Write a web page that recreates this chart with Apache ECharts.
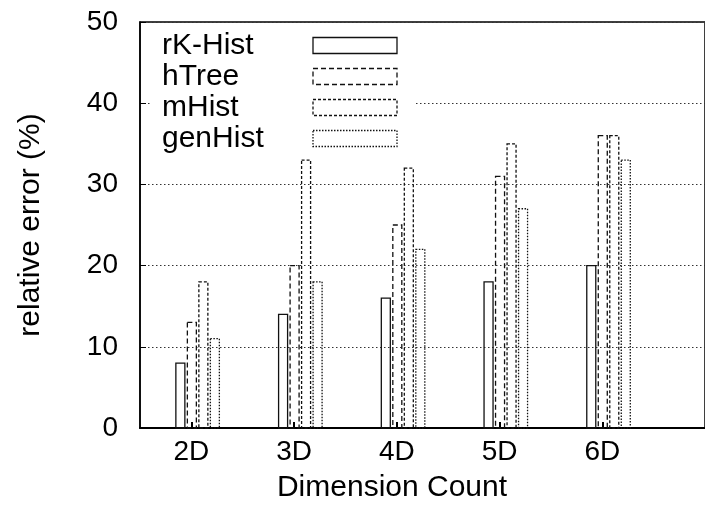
<!DOCTYPE html>
<html>
<head>
<meta charset="utf-8">
<script src="https://cdn.jsdelivr.net/npm/echarts@6/dist/echarts.min.js"></script>
<style>html,body{margin:0;padding:0;background:#fff}</style>
</head>
<body>
<div id="chart" style="width:705px;height:527px;"></div>
<script>
// data
var dims = ['2D', '3D', '4D', '5D', '6D'];
var dimPos = [2, 3, 4, 5, 6];
var seriesNames = ['rK-Hist', 'hTree', 'mHist', 'genHist'];
var rkHist = [8, 14, 16, 18, 20];
var hTree = [13, 20, 25, 31, 36];
var mHist = [18, 33, 32, 35, 36];
var genHist = [11, 18, 22, 27, 33];

var font = 'Liberation Sans';
// outline dash of each series (gnuplot look)
var dashes = ['solid', [5, 3], [3, 2], [1.5, 1.5]];
var offsets = [-11, 0.5, 12, 23.5]; // px from the tick
var barW = 9;

function toPairs(arr) {
	return arr.map(function (v, i) { return [dimPos[i], v]; });
}

function makeRender(k) {
	return function (params, api) {
		var top = api.coord([api.value(0), api.value(1)]);
		var base = api.coord([api.value(0), 0]);
		var cx = top[0] + offsets[k];
		return {
			type: 'rect',
			shape: { x: cx - barW / 2, y: top[1], width: barW, height: base[1] - top[1] },
			style: {
				fill: 'none',
				stroke: '#111',
				lineWidth: 1.3,
				lineDash: dashes[k] === 'solid' ? null : dashes[k]
			}
		};
	};
}

var allData = [rkHist, hTree, mHist, genHist];
var series = seriesNames.map(function (name, k) {
	return {
		name: name,
		type: 'custom',
		renderItem: makeRender(k),
		data: toPairs(allData[k]),
		encode: { x: 0, y: 1 },
		itemStyle: { color: '#fff' },
		z: 3
	};
});

var chart = echarts.init(document.getElementById('chart'));
chart.setOption({
	animation: false,
	backgroundColor: '#fff',
	grid: {
		left: 140, top: 22, width: 569, height: 406,
		show: true, borderColor: '#000', borderWidth: 1.5,
		backgroundColor: 'transparent'
	},
	legend: {
		orient: 'vertical', left: 150, top: 28, align: 'right',
		backgroundColor: '#fff', padding: [2, 18, 4, 12], itemGap: 0,
		itemWidth: 84, itemHeight: 16, icon: 'rect', selectedMode: false,
		formatter: function (n) { return '{a|' + n + '}'; },
		textStyle: {
			fontFamily: font, fontSize: 30, color: '#000', lineHeight: 31,
			rich: { a: { width: 146, align: 'left', fontFamily: font, fontSize: 30, lineHeight: 31, color: '#000' } }
		},
		data: seriesNames.map(function (n, i) {
			return {
				name: n,
				itemStyle: { color: '#fff', borderColor: '#111', borderWidth: 1.3, borderType: dashes[i] }
			};
		})
	},
	xAxis: {
		type: 'value', min: 1.5, max: 7,
		name: 'Dimension Count', nameLocation: 'middle', nameGap: 45,
		nameTextStyle: { fontFamily: font, fontSize: 30, color: '#000', padding: [0, 61, 0, 0] },
		axisLine: { show: true, lineStyle: { color: '#000', width: 2 } },
		axisTick: { show: true, inside: true, length: 6, customValues: dimPos, lineStyle: { color: '#000', width: 2 } },
		axisLabel: {
			customValues: dimPos, margin: 10,
			fontFamily: font, fontSize: 28, color: '#000',
			formatter: function (v) { return dims[dimPos.indexOf(v)]; }
		},
		splitLine: { show: false }
	},
	yAxis: {
		type: 'value', min: 0, max: 50, interval: 10,
		name: 'relative error (%)', nameLocation: 'middle', nameGap: 94,
		nameTextStyle: { fontFamily: font, fontSize: 30, color: '#000' },
		axisLine: { show: true, lineStyle: { color: '#000', width: 1.5 } },
		axisTick: { show: true, inside: true, length: 6, lineStyle: { color: '#000' } },
		axisLabel: { margin: 22, fontFamily: font, fontSize: 28, color: '#000' },
		splitLine: { show: true, lineStyle: { color: '#333', width: 1, type: [1.5, 2.5] } }
	},
	series: series
});
</script>
</body>
</html>
